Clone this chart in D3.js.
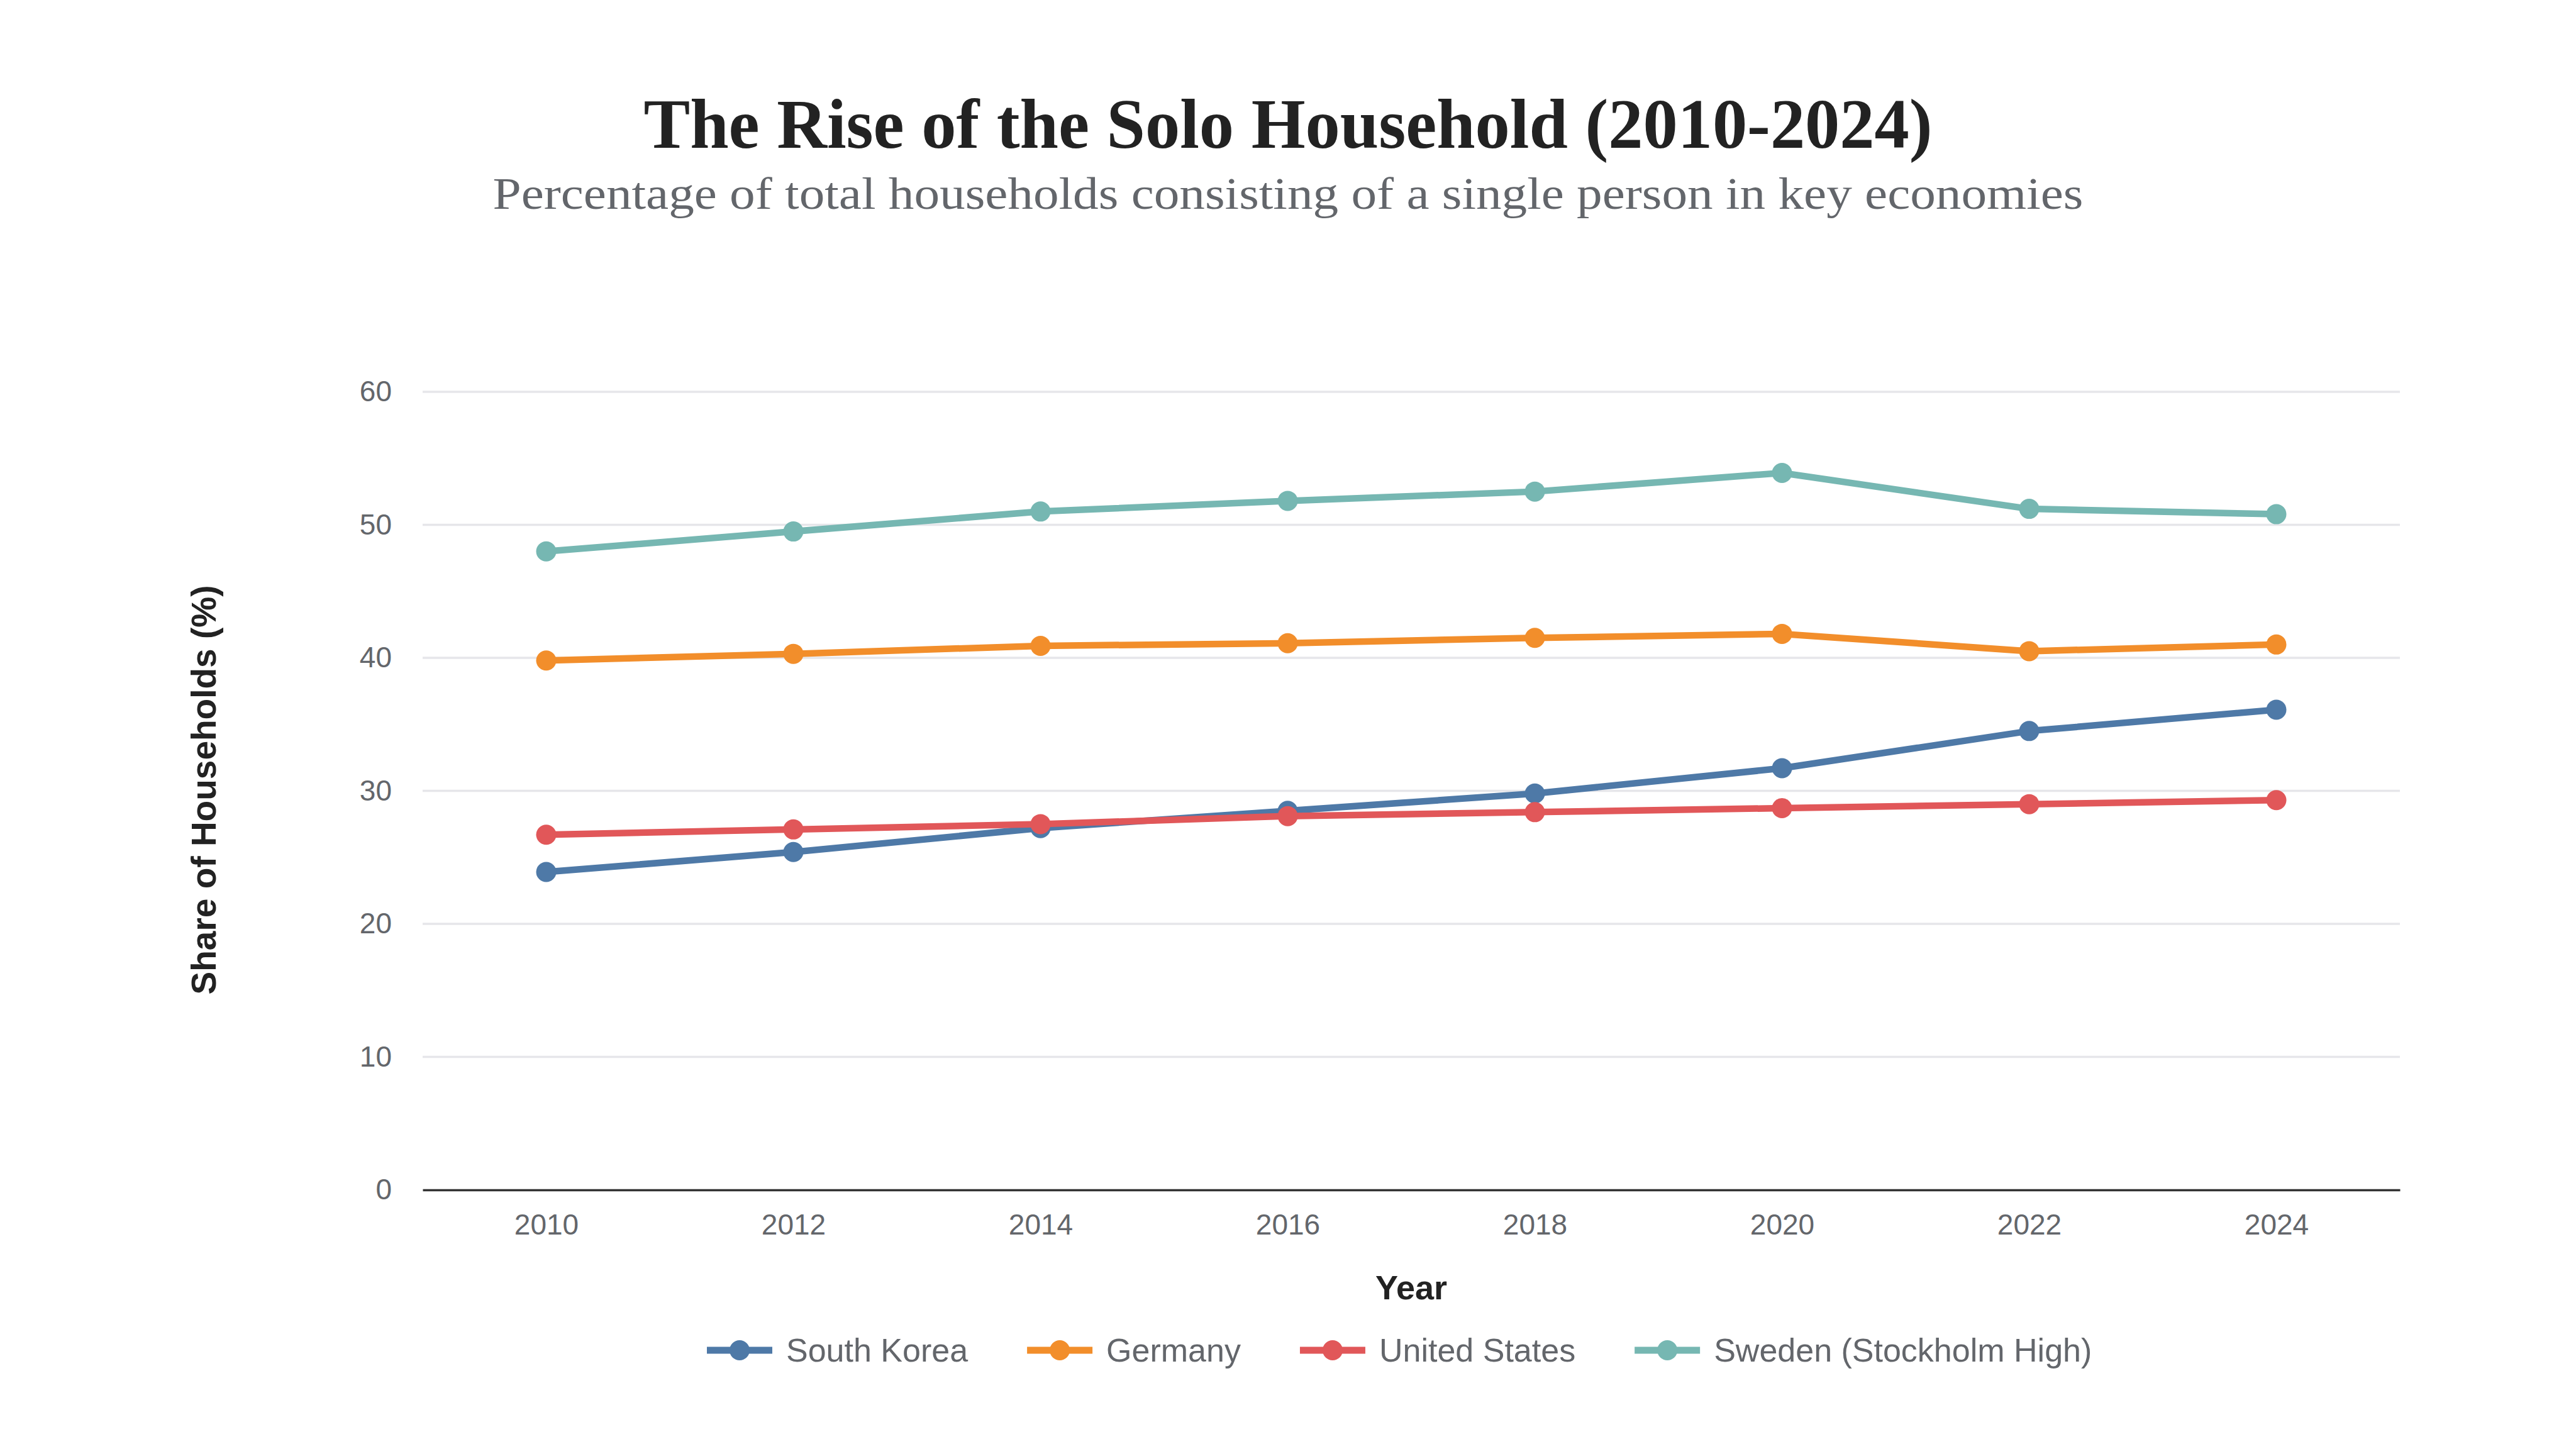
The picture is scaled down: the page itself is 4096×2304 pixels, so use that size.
<!DOCTYPE html>
<html lang="en">
    <head>
        <meta charset="UTF-8" />
        <title>The Rise of the Solo Household</title>
        <script src="https://d3js.org/d3.v7.js"></script>
    </head>

    <body>
        <div id="chart"></div>
    </body>

    <script>
        // values (share of households, %)
        const years = [2010, 2012, 2014, 2016, 2018, 2020, 2022, 2024];
        const seriesNames = ["South Korea", "Germany", "United States", "Sweden (Stockholm High)"];
        const southKorea = [23.9, 25.4, 27.2, 28.5, 29.8, 31.7, 34.5, 36.1];
        const germany = [39.8, 40.3, 40.9, 41.1, 41.5, 41.8, 40.5, 41.0];
        const unitedStates = [26.7, 27.1, 27.5, 28.1, 28.4, 28.7, 29.0, 29.3];
        const sweden = [48.0, 49.5, 51.0, 51.8, 52.5, 53.9, 51.2, 50.8];
        const yTicks = [0, 10, 20, 30, 40, 50, 60];

        const colors = ["#4e79a7", "#f28e2b", "#e15759", "#76b7b2"];
        const allValues = [southKorea, germany, unitedStates, sweden];

        const series = seriesNames.map((name, i) => ({
            name: name,
            color: colors[i],
            points: years.map((yr, j) => ({year: yr, value: allValues[i][j]}))
        }));

        const W = 4096, H = 2304;
        const plot = {left: 672, right: 3816, top: 623, bottom: 1892};

        const svg = d3.select("#chart")
            .append("svg")
            .attr("width", W)
            .attr("height", H);

        svg.append("rect").attr("width", W).attr("height", H).attr("fill", "#fff");

        // title + subtitle, fitted to the reference width
        svg.append("text")
            .attr("x", W / 2)
            .attr("y", 235)
            .attr("text-anchor", "middle")
            .attr("font-family", "'Liberation Serif', 'DejaVu Serif', serif")
            .attr("font-weight", "bold")
            .attr("font-size", 112)
            .attr("fill", "#222")
            .attr("textLength", 2049)
            .attr("lengthAdjust", "spacingAndGlyphs")
            .text("The Rise of the Solo Household (2010-2024)");

        svg.append("text")
            .attr("x", W / 2)
            .attr("y", 332)
            .attr("text-anchor", "middle")
            .attr("font-family", "'Liberation Serif', 'DejaVu Serif', serif")
            .attr("font-size", 71)
            .attr("fill", "#63666b")
            .attr("textLength", 2529)
            .attr("lengthAdjust", "spacingAndGlyphs")
            .text("Percentage of total households consisting of a single person in key economies");

        const x = d3.scalePoint()
            .domain(years)
            .range([plot.left, plot.right])
            .padding(0.5);

        const y = d3.scaleLinear()
            .domain([0, 60])
            .range([plot.bottom, plot.top]);

        // gridlines
        svg.append("g")
            .selectAll("line")
            .data(yTicks.filter(d => d > 0))
            .join("line")
            .attr("x1", plot.left)
            .attr("x2", plot.right)
            .attr("y1", d => y(d))
            .attr("y2", d => y(d))
            .attr("stroke", "#e6e6ea")
            .attr("stroke-width", 3.5);

        const font = "'Liberation Sans', Arial, sans-serif";

        // y axis
        const yAxis = svg.append("g")
            .attr("transform", `translate(${plot.left},0)`)
            .call(d3.axisLeft(y).tickValues(yTicks).tickSize(0).tickPadding(49));
        yAxis.select(".domain").remove();
        yAxis.selectAll("text")
            .attr("font-family", font)
            .attr("font-size", 46)
            .attr("fill", "#63666b");

        // x axis
        const xAxis = svg.append("g")
            .attr("transform", `translate(0,${plot.bottom})`)
            .call(d3.axisBottom(x).tickSize(0).tickSizeOuter(0).tickPadding(38));
        xAxis.select(".domain")
            .attr("stroke", "#333")
            .attr("stroke-width", 3.5);
        xAxis.selectAll("text")
            .attr("font-family", font)
            .attr("font-size", 46)
            .attr("fill", "#63666b");

        // axis titles
        svg.append("text")
            .attr("x", (plot.left + plot.right) / 2)
            .attr("y", 2066)
            .attr("text-anchor", "middle")
            .attr("font-family", font)
            .attr("font-weight", "bold")
            .attr("font-size", 54)
            .attr("fill", "#222")
            .text("Year");

        svg.append("text")
            .attr("transform", "translate(343,1256) rotate(-90)")
            .attr("text-anchor", "middle")
            .attr("font-family", font)
            .attr("font-weight", "bold")
            .attr("font-size", 55)
            .attr("fill", "#222")
            .text("Share of Households (%)");

        // lines and points
        const line = d3.line()
            .x(d => x(d.year))
            .y(d => y(d.value));

        const g = svg.append("g")
            .selectAll("g")
            .data(series)
            .join("g");

        g.append("path")
            .attr("d", d => line(d.points))
            .attr("fill", "none")
            .attr("stroke", d => d.color)
            .attr("stroke-width", 10.5)
            .attr("stroke-linejoin", "round");

        g.selectAll("circle")
            .data(d => d.points.map(p => ({...p, color: d.color})))
            .join("circle")
            .attr("cx", d => x(d.year))
            .attr("cy", d => y(d.value))
            .attr("r", 16)
            .attr("fill", d => d.color);

        // legend
        const legend = svg.append("g").attr("transform", "translate(0,2147)");
        let lx = 1124;
        series.forEach(s => {
            const item = legend.append("g").attr("transform", `translate(${lx},0)`);
            item.append("line")
                .attr("x1", 0).attr("x2", 104)
                .attr("stroke", s.color)
                .attr("stroke-width", 11);
            item.append("circle")
                .attr("cx", 52)
                .attr("r", 16)
                .attr("fill", s.color);
            const t = item.append("text")
                .attr("x", 126)
                .attr("dy", "0.35em")
                .attr("font-family", font)
                .attr("font-size", 52)
                .attr("fill", "#63666b")
                .text(s.name);
            lx += 126 + t.node().getComputedTextLength() + 94;
        });
    </script>

    <style>
        body {
            margin: 0;
            background: #fff;
        }

        svg {
            display: block;
        }
    </style>
</html>
